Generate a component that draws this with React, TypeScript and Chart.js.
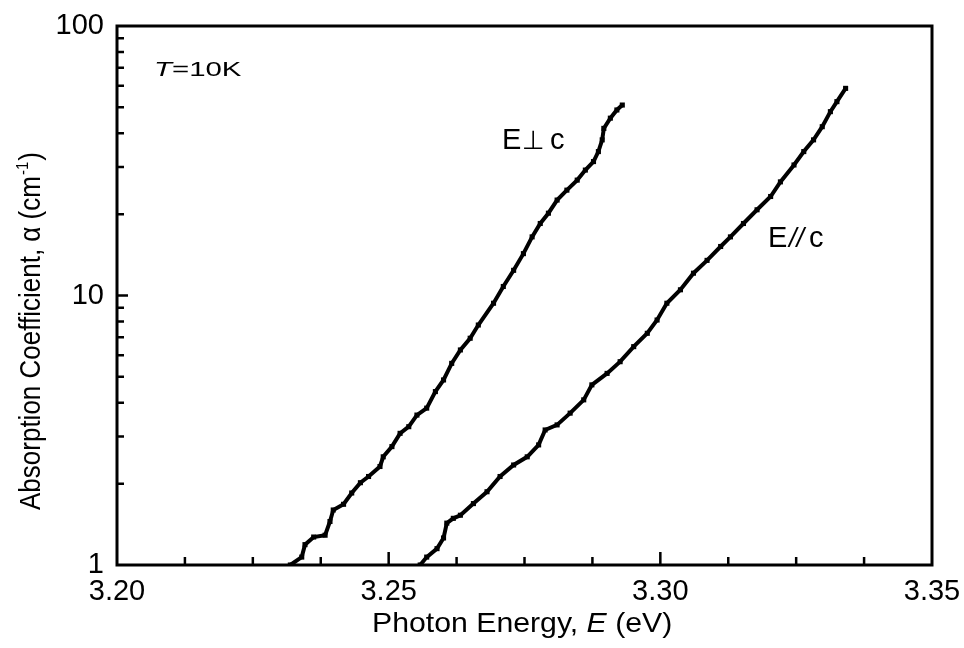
import React, { useEffect, useRef } from 'react';
import { Chart, registerables } from 'chart.js';

Chart.register(...registerables);

// E ⊥ c series (photon energy in eV, absorption coefficient in cm^-1)
const perpEnergy = [3.2319, 3.2340, 3.2346, 3.2362, 3.2383, 3.2392, 3.2398, 3.2417, 3.2432, 3.2448, 3.2463, 3.2484, 3.2490, 3.2506, 3.2521, 3.2537, 3.2552, 3.2570, 3.2586, 3.2601, 3.2616, 3.2632, 3.2650, 3.2665, 3.2693, 3.2711, 3.2730, 3.2748, 3.2764, 3.2779, 3.2794, 3.2810, 3.2828, 3.2847, 3.2862, 3.2877, 3.2886, 3.2893, 3.2896, 3.2908, 3.2920, 3.2930];
const perpAlpha = [1.00, 1.07, 1.19, 1.27, 1.29, 1.45, 1.60, 1.68, 1.85, 2.02, 2.13, 2.32, 2.52, 2.75, 3.08, 3.26, 3.60, 3.82, 4.40, 4.86, 5.60, 6.28, 6.94, 7.77, 9.36, 10.8, 12.4, 14.3, 16.5, 18.5, 20.2, 22.6, 24.6, 26.8, 29.2, 31.4, 34.2, 37.8, 41.7, 45.5, 48.8, 50.9];

// E // c series
const parEnergy = [3.2558, 3.2570, 3.2589, 3.2601, 3.2607, 3.2619, 3.2632, 3.2656, 3.2681, 3.2705, 3.2730, 3.2755, 3.2776, 3.2788, 3.2810, 3.2834, 3.2859, 3.2874, 3.2902, 3.2926, 3.2951, 3.2976, 3.2994, 3.3012, 3.3037, 3.3061, 3.3086, 3.3111, 3.3129, 3.3153, 3.3178, 3.3203, 3.3221, 3.3246, 3.3264, 3.3282, 3.3298, 3.3313, 3.3325, 3.3341];
const parAlpha = [1.00, 1.07, 1.15, 1.26, 1.43, 1.49, 1.53, 1.69, 1.87, 2.13, 2.35, 2.52, 2.79, 3.17, 3.31, 3.66, 4.10, 4.66, 5.14, 5.68, 6.46, 7.24, 8.11, 9.36, 10.5, 12.1, 13.5, 15.2, 16.5, 18.5, 20.8, 23.3, 26.4, 30.5, 34.2, 37.8, 42.3, 48.1, 52.4, 58.7];

const xTickValues = [3.20, 3.25, 3.30, 3.35];
const xMinorTicks = [3.2125, 3.225, 3.2375, 3.2625, 3.275, 3.2875, 3.3125, 3.325, 3.3375];
const yTickValues = [1, 10, 100];
const yMinorTicks = [2, 3, 4, 5, 6, 7, 8, 9, 20, 30, 40, 50, 60, 70, 80, 90];

const FONT = '"Liberation Sans", Arial, Helvetica, sans-serif';

function drawStretched(ctx: CanvasRenderingContext2D, text: string, x: number, y: number, font: string, sx: number) {
  ctx.save();
  ctx.font = font;
  ctx.translate(x, y);
  ctx.scale(sx, 1);
  ctx.fillText(text, 0, 0);
  ctx.restore();
}

const framePlugin = {
  id: 'framePlugin',
  afterDraw(chart: any) {
    const { ctx, chartArea } = chart;
    const { left, right, top, bottom } = chartArea;
    const xs = chart.scales.x;
    const ys = chart.scales.y;
    ctx.save();
    ctx.strokeStyle = '#000';
    ctx.fillStyle = '#000';
    ctx.lineCap = 'butt';
    // ticks
    ctx.lineWidth = 2.5;
    ctx.beginPath();
    xTickValues.slice(1, -1).forEach((v) => {
      const px = xs.getPixelForValue(v);
      ctx.moveTo(px, bottom);
      ctx.lineTo(px, bottom - 13);
    });
    xMinorTicks.forEach((v) => {
      const px = xs.getPixelForValue(v);
      ctx.moveTo(px, bottom);
      ctx.lineTo(px, bottom - 8);
    });
    yTickValues.slice(1, -1).forEach((v) => {
      const py = ys.getPixelForValue(v);
      ctx.moveTo(left, py);
      ctx.lineTo(left + 11, py);
    });
    yMinorTicks.forEach((v) => {
      const py = ys.getPixelForValue(v);
      ctx.moveTo(left, py);
      ctx.lineTo(left + 7, py);
    });
    ctx.stroke();
    // frame
    ctx.lineWidth = 3;
    ctx.strokeRect(left, top, right - left, bottom - top);

    ctx.textAlign = 'left';
    ctx.textBaseline = 'alphabetic';

    // T=10K
    const tScale = 1.4;
    drawStretched(ctx, 'T', 154, 76, `italic 21px ${FONT}`, tScale);
    ctx.font = `italic 21px ${FONT}`;
    const tW = ctx.measureText('T').width * tScale;
    drawStretched(ctx, '=10K', 154 + tW, 76, `21px ${FONT}`, tScale);

    // E ⊥ c
    ctx.font = `29px ${FONT}`;
    ctx.fillText('E', 502, 149);
    ctx.font = `26px "DejaVu Sans", ${FONT}`;
    ctx.fillText('\u22A5', 522, 149);
    ctx.font = `29px ${FONT}`;
    ctx.fillText('c', 550, 149);

    // E // c
    ctx.font = `29px ${FONT}`;
    ctx.fillText('E', 768, 247);
    ctx.font = `italic 27px ${FONT}`;
    ctx.fillText('//', 789, 247);
    ctx.font = `29px ${FONT}`;
    ctx.fillText('c', 809, 247);

    // x-axis title
    const sxT = 1.08;
    const fReg = `28px ${FONT}`;
    const fIt = `italic 28px ${FONT}`;
    ctx.font = fReg;
    const w1 = ctx.measureText('Photon Energy, ').width;
    ctx.font = fIt;
    const w2 = ctx.measureText('E').width;
    let tx = 372;
    const ty = 632;
    drawStretched(ctx, 'Photon Energy, ', tx, ty, fReg, sxT);
    tx += w1 * sxT;
    drawStretched(ctx, 'E', tx, ty, fIt, sxT);
    tx += w2 * sxT;
    drawStretched(ctx, ' (eV)', tx, ty, fReg, sxT);

    // y-axis title (rotated)
    ctx.save();
    ctx.translate(40, 510);
    ctx.rotate(-Math.PI / 2);
    ctx.scale(1, 1.12);
    ctx.font = `26px ${FONT}`;
    const main = 'Absorption Coefficient, \u03B1 (cm';
    ctx.fillText(main, 0, 0);
    let ox = ctx.measureText(main).width;
    ctx.font = `15px ${FONT}`;
    ctx.fillText('-1', ox + 1, -11);
    ox += ctx.measureText('-1').width + 2;
    ctx.font = `26px ${FONT}`;
    ctx.fillText(')', ox, 0);
    ctx.restore();

    ctx.restore();
  },
};

export default function App() {
  const canvasRef = useRef<HTMLCanvasElement | null>(null);

  useEffect(() => {
    const canvas = canvasRef.current;
    if (!canvas) return;
    const perpData = perpEnergy.map((e, i) => ({ x: e, y: perpAlpha[i] }));
    const parData = parEnergy.map((e, i) => ({ x: e, y: parAlpha[i] }));
    const common = {
      borderColor: '#000',
      backgroundColor: '#000',
      borderWidth: 4,
      pointStyle: 'rect',
      pointRadius: 3.6,
      pointBorderWidth: 0,
      tension: 0,
      fill: false,
    };
    const chart = new Chart(canvas, {
      type: 'line',
      data: {
        datasets: [
          { label: 'E⊥c', data: perpData, ...common } as any,
          { label: 'E//c', data: parData, ...common } as any,
        ],
      },
      options: {
        responsive: false,
        animation: false,
        devicePixelRatio: 1,
        layout: { padding: { left: 0, top: 26, right: 32, bottom: 0 } },
        plugins: {
          legend: { display: false },
          tooltip: { enabled: false },
          title: { display: false },
        },
        scales: {
          x: {
            type: 'linear',
            min: 3.2,
            max: 3.35,
            grid: { display: false, drawTicks: false },
            border: { display: false },
            afterBuildTicks: (scale: any) => {
              scale.ticks = xTickValues.map((v) => ({ value: v }));
            },
            afterFit: (scale: any) => {
              scale.height = 83;
              scale.paddingLeft = 0;
              scale.paddingRight = 0;
            },
            ticks: {
              color: '#000',
              padding: 10,
              maxRotation: 0,
              autoSkip: false,
              font: { family: FONT, size: 29 },
              callback: (v: any) => Number(v).toFixed(2),
            },
          },
          y: {
            type: 'logarithmic',
            min: 1,
            max: 100,
            grid: { display: false, drawTicks: false },
            border: { display: false },
            afterBuildTicks: (scale: any) => {
              scale.ticks = yTickValues.map((v) => ({ value: v }));
            },
            afterFit: (scale: any) => {
              scale.width = 117;
              scale.paddingTop = 0;
              scale.paddingBottom = 0;
            },
            ticks: {
              color: '#000',
              padding: 13,
              autoSkip: false,
              font: { family: FONT, size: 29 },
              callback: (v: any) => String(Number(v)),
            },
          },
        },
      },
      plugins: [framePlugin],
    });
    return () => chart.destroy();
  }, []);

  return (
    <div style={{ position: 'fixed', left: 0, top: 0, width: 964, height: 648, background: '#fff' }}>
      <canvas ref={canvasRef} width={964} height={648} style={{ width: 964, height: 648, display: 'block' }} />
    </div>
  );
}
